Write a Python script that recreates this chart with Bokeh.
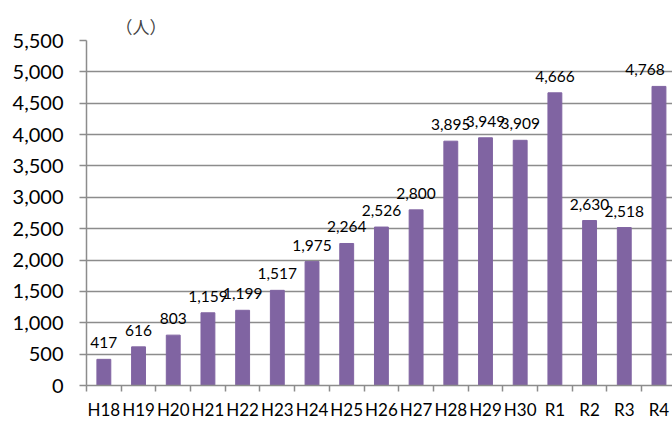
from bokeh.plotting import figure
from bokeh.models import ColumnDataSource, Range1d, FixedTicker, NumeralTickFormatter
from bokeh.core.properties import value
from bokeh.embed import file_html
from bokeh.resources import INLINE

categories = ["H18", "H19", "H20", "H21", "H22", "H23", "H24", "H25", "H26",
              "H27", "H28", "H29", "H30", "R1", "R2", "R3", "R4"]
values = [417, 616, 803, 1159, 1199, 1517, 1975, 2264, 2526,
          2800, 3895, 3949, 3909, 4666, 2630, 2518, 4768]
y_ticks = [0, 500, 1000, 1500, 2000, 2500, 3000, 3500, 4000, 4500, 5000, 5500]
unit_label = "（人）"

idx = list(range(len(categories)))
labels = [f"{v:,}" for v in values]
# keep the last label inside the visible area (shifted left, as in the reference)
x_offsets = [0] * (len(categories) - 1) + [-14]
src = ColumnDataSource(dict(x=idx, top=values, label=labels, xo=x_offsets))

BAR = "#8064A2"
GRID = "#8C8C8C"

p = figure(width=672, height=423, output_backend="svg", toolbar_location=None,
           x_range=Range1d(-0.5, 16.39), y_range=Range1d(0, 5500),
           min_border_left=86, min_border_right=0, min_border_top=40,
           min_border_bottom=38, title=unit_label)
p.outline_line_color = None
p.background_fill_color = "white"
p.border_fill_color = "white"

p.title.text_font = "Noto Sans CJK JP"
p.title.text_font_size = "17px"
p.title.text_font_style = "normal"
p.title.align = "left"
p.title.offset = 29
p.title.standoff = 4

p.vbar(x="x", top="top", width=0.4, bottom=0, source=src,
       fill_color=BAR, line_color=BAR)

p.text(x="x", y="top", text="label", source=src, text_align="center",
       text_baseline="bottom", y_offset=-11, x_offset="xo",
       text_font=value("Lato"), text_font_size="15.5px", text_color="black")

# x axis: labels at centers, ticks at category boundaries
xa = p.xaxis[0]
xa.ticker = FixedTicker(ticks=idx, minor_ticks=[i - 0.5 for i in range(len(categories) + 1)])
xa.major_label_overrides = {i: c for i, c in zip(idx, categories)}
xa.major_tick_out = 0
xa.major_tick_in = 0
xa.minor_tick_out = 6
xa.minor_tick_in = 0
xa.minor_tick_line_color = GRID
xa.minor_tick_line_width = 1.5
xa.axis_line_color = GRID
xa.axis_line_width = 1.5
xa.major_label_text_font = "Lato"
xa.major_label_text_font_size = "17px"
xa.major_label_text_color = "black"
xa.major_label_standoff = 7

ya = p.yaxis[0]
ya.ticker = FixedTicker(ticks=y_ticks)
ya.formatter = NumeralTickFormatter(format="0,0")
ya.major_tick_out = 7
ya.major_tick_in = 0
ya.minor_tick_out = 0
ya.minor_tick_in = 0
ya.major_tick_line_color = GRID
ya.major_tick_line_width = 1.5
ya.axis_line_color = GRID
ya.axis_line_width = 1.5
ya.major_label_text_font = "Lato"
ya.major_label_text_font_size = "20px"
ya.major_label_text_color = "black"
ya.major_label_standoff = 16

p.xgrid.grid_line_color = None
p.ygrid.grid_line_color = GRID
p.ygrid.grid_line_width = 1.5

open("out.html", "w").write(file_html(p, INLINE))
